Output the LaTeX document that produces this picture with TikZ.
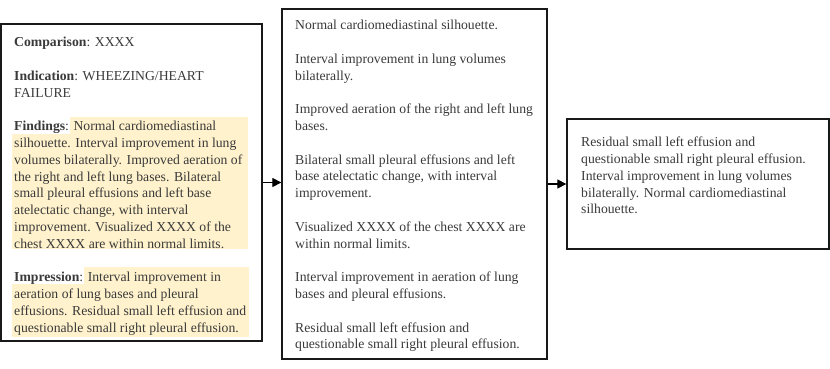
\documentclass[tikz,border=0pt]{standalone}
\usepackage{fontspec}
\setmainfont{Liberation Serif}
\usetikzlibrary{arrows.meta}
\definecolor{hl}{HTML}{FFF2CC}
\definecolor{ink}{HTML}{3A3A3A}
\tikzset{
  txt/.style={font=\fontsize{13.7}{16.8}\selectfont, align=left, inner sep=0pt, text=ink, anchor=north west},
  box/.style={draw=black!90, line width=1.3pt, rectangle, inner sep=0pt},
  conn/.style={line width=1.2pt, -{Triangle[length=9pt,width=9pt]}},
  hlbox/.style={fill=hl, draw=none}
}
\begin{document}
\begin{tikzpicture}[x=1pt,y=-1pt]
\useasboundingbox (0,0) rectangle (830,369);
% boxes
\node[box, minimum width=261pt, minimum height=317pt] (lbox) at (131.5,182.5) {};
\node[box, minimum width=265pt, minimum height=350pt] (mbox) at (414.5,184) {};
\node[box, minimum width=262pt, minimum height=130pt] (rbox) at (698,184) {};
% highlights
\fill[hlbox] (70,116.5) rectangle (248,134);
\fill[hlbox] (12,133.5) rectangle (248,249);
\fill[hlbox] (84,266.5) rectangle (249,284);
\fill[hlbox] (12,283.5) rectangle (249,337);
% texts
\node[txt] (ltext) at (14,34.7) {\strut\textbf{Comparison}: XXXX\\[16.8pt]
\textbf{Indication}: WHEEZING/HEART\\
FAILURE\\[16.8pt]
\textbf{Findings}: Normal cardiomediastinal\\
silhouette. Interval improvement in lung\\
volumes bilaterally. Improved aeration of\\
the right and left lung bases. Bilateral\\
small pleural effusions and left base\\
atelectatic change, with interval\\
improvement. Visualized XXXX of the\\
chest XXXX are within normal limits.\\[16.8pt]
\textbf{Impression}: Interval improvement in\\
aeration of lung bases and pleural\\
effusions. Residual small left effusion and\\
questionable small right pleural effusion.};
\node[txt] (mtext) at (295,17.7) {\strut Normal cardiomediastinal silhouette.\\[16.8pt]
Interval improvement in lung volumes\\
bilaterally.\\[16.8pt]
Improved aeration of the right and left lung\\
bases.\\[16.8pt]
Bilateral small pleural effusions and left\\
base atelectatic change, with interval\\
improvement.\\[16.8pt]
Visualized XXXX of the chest XXXX are\\
within normal limits.\\[16.8pt]
Interval improvement in aeration of lung\\
bases and pleural effusions.\\[16.8pt]
Residual small left effusion and\\
questionable small right pleural effusion.};
\node[txt] (rtext) at (581,134.7) {\strut Residual small left effusion and\\
questionable small right pleural effusion.\\
Interval improvement in lung volumes\\
bilaterally. Normal cardiomediastinal\\
silhouette.};
% connectors
\draw[conn] (lbox.east) -- (lbox.east -| mbox.west);
\draw[conn] (mbox.east) -- (rbox.west);
\end{tikzpicture}
\end{document}
